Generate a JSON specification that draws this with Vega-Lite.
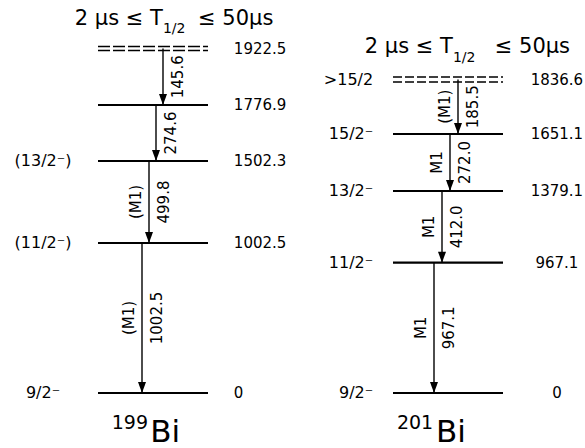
{
  "$schema": "https://vega.github.io/schema/vega-lite/v6.json",
  "width": 585,
  "height": 448,
  "autosize": {"type": "fit", "contains": "padding"},
  "padding": 0,
  "background": "white",
  "config": {
    "view": {"stroke": null},
    "font": "DejaVu Sans",
    "text": {"font": "DejaVu Sans", "fontSize": 15, "color": "#000"},
    "rule": {"color": "#000"}
  },
  "datasets": {
    "levels": [
      {"nucleus": "199Bi", "energy": 0, "spin": "9/2⁻", "isomer": false},
      {"nucleus": "199Bi", "energy": 1002.5, "spin": "(11/2⁻)", "isomer": false},
      {"nucleus": "199Bi", "energy": 1502.3, "spin": "(13/2⁻)", "isomer": false},
      {"nucleus": "199Bi", "energy": 1776.9, "spin": "", "isomer": false},
      {"nucleus": "199Bi", "energy": 1922.5, "spin": "", "isomer": true},
      {"nucleus": "201Bi", "energy": 0, "spin": "9/2⁻", "isomer": false},
      {"nucleus": "201Bi", "energy": 967.1, "spin": "11/2⁻", "isomer": false},
      {"nucleus": "201Bi", "energy": 1379.1, "spin": "13/2⁻", "isomer": false},
      {"nucleus": "201Bi", "energy": 1651.1, "spin": "15/2⁻", "isomer": false},
      {"nucleus": "201Bi", "energy": 1836.6, "spin": ">15/2", "isomer": true}
    ],
    "gammas": [
      {"nucleus": "199Bi", "from": 1922.5, "to": 1776.9, "egamma": "145.6", "mult": "", "step": 1},
      {"nucleus": "199Bi", "from": 1776.9, "to": 1502.3, "egamma": "274.6", "mult": "", "step": 2},
      {"nucleus": "199Bi", "from": 1502.3, "to": 1002.5, "egamma": "499.8", "mult": "(M1)", "step": 3},
      {"nucleus": "199Bi", "from": 1002.5, "to": 0, "egamma": "1002.5", "mult": "(M1)", "step": 4},
      {"nucleus": "201Bi", "from": 1836.6, "to": 1651.1, "egamma": "185.5", "mult": "(M1)", "step": 1},
      {"nucleus": "201Bi", "from": 1651.1, "to": 1379.1, "egamma": "272.0", "mult": "M1", "step": 2},
      {"nucleus": "201Bi", "from": 1379.1, "to": 967.1, "egamma": "412.0", "mult": "M1", "step": 3},
      {"nucleus": "201Bi", "from": 967.1, "to": 0, "egamma": "967.1", "mult": "M1", "step": 4}
    ]
  },
  "layer": [
    {
      "layer": [
        {
          "data": {"name": "levels"},
          "transform": [{"filter": "datum.nucleus === '199Bi'"}],
          "layer": [
            {
              "transform": [{"filter": "!datum.isomer"}],
              "mark": {"type": "rule", "strokeWidth": 2.2, "color": "#000"},
              "encoding": {
                "x": {"datum": -1, "type": "quantitative", "scale": {"domain": [-1, 1], "range": [98, 208], "zero": false, "nice": false}, "axis": null},
                "x2": {"datum": 1},
                "y": {"field": "energy", "type": "quantitative", "scale": {"domain": [-300, 0, 1002.5, 1502.3, 1776.9, 1922.5, 2200], "range": [442, 393, 243, 161, 105, 48.5, 25], "zero": false, "nice": false}, "axis": null}
              }
            },
            {
              "transform": [{"filter": "datum.isomer"}],
              "mark": {"type": "rule", "strokeWidth": 1.6, "strokeDash": [12, 3], "yOffset": -2, "color": "#000"},
              "encoding": {
                "x": {"datum": -1, "type": "quantitative", "scale": {"domain": [-1, 1], "range": [98, 208], "zero": false, "nice": false}, "axis": null},
                "x2": {"datum": 1},
                "y": {"field": "energy", "type": "quantitative", "scale": {"domain": [-300, 0, 1002.5, 1502.3, 1776.9, 1922.5, 2200], "range": [442, 393, 243, 161, 105, 48.5, 25], "zero": false, "nice": false}, "axis": null}
              }
            },
            {
              "transform": [{"filter": "datum.isomer"}],
              "mark": {"type": "rule", "strokeWidth": 1.6, "strokeDash": [12, 3], "yOffset": 2, "color": "#000"},
              "encoding": {
                "x": {"datum": -1, "type": "quantitative", "scale": {"domain": [-1, 1], "range": [98, 208], "zero": false, "nice": false}, "axis": null},
                "x2": {"datum": 1},
                "y": {"field": "energy", "type": "quantitative", "scale": {"domain": [-300, 0, 1002.5, 1502.3, 1776.9, 1922.5, 2200], "range": [442, 393, 243, 161, 105, 48.5, 25], "zero": false, "nice": false}, "axis": null}
              }
            },
            {
              "transform": [{"filter": "datum.spin !== ''"}],
              "mark": {"type": "text", "align": "center", "baseline": "middle", "fontSize": 16},
              "encoding": {
                "x": {"datum": -2, "type": "quantitative", "scale": {"domain": [-1, 1], "range": [98, 208], "zero": false, "nice": false}, "axis": null},
                "y": {"field": "energy", "type": "quantitative", "scale": {"domain": [-300, 0, 1002.5, 1502.3, 1776.9, 1922.5, 2200], "range": [442, 393, 243, 161, 105, 48.5, 25], "zero": false, "nice": false}, "axis": null},
                "text": {"field": "spin", "type": "nominal"}
              }
            },
            {
              "mark": {"type": "text", "align": "left", "baseline": "middle", "fontSize": 15},
              "encoding": {
                "x": {"datum": 1.47, "type": "quantitative", "scale": {"domain": [-1, 1], "range": [98, 208], "zero": false, "nice": false}, "axis": null},
                "y": {"field": "energy", "type": "quantitative", "scale": {"domain": [-300, 0, 1002.5, 1502.3, 1776.9, 1922.5, 2200], "range": [442, 393, 243, 161, 105, 48.5, 25], "zero": false, "nice": false}, "axis": null},
                "text": {"field": "energy", "type": "nominal"}
              }
            }
          ]
        },
        {
          "data": {"values": [{}]},
          "layer": [
            {
              "mark": {"type": "text", "text": "2 μs ≤ T", "align": "right", "baseline": "alphabetic", "fontSize": 21},
              "encoding": {
                "x": {"datum": 0.18, "type": "quantitative", "scale": {"domain": [-1, 1], "range": [98, 208], "zero": false, "nice": false}, "axis": null},
                "y": {"datum": 2200, "type": "quantitative", "scale": {"domain": [-300, 0, 1002.5, 1502.3, 1776.9, 1922.5, 2200], "range": [442, 393, 243, 161, 105, 48.5, 25], "zero": false, "nice": false}, "axis": null}
              }
            },
            {
              "mark": {"type": "text", "text": "1/2", "align": "left", "baseline": "alphabetic", "fontSize": 14, "dx": 0, "dy": 8},
              "encoding": {
                "x": {"datum": 0.18, "type": "quantitative", "scale": {"domain": [-1, 1], "range": [98, 208], "zero": false, "nice": false}, "axis": null},
                "y": {"datum": 2200, "type": "quantitative", "scale": {"domain": [-300, 0, 1002.5, 1502.3, 1776.9, 1922.5, 2200], "range": [442, 393, 243, 161, 105, 48.5, 25], "zero": false, "nice": false}, "axis": null}
              }
            },
            {
              "mark": {"type": "text", "text": "≤ 50μs", "align": "left", "baseline": "alphabetic", "fontSize": 21},
              "encoding": {
                "x": {"datum": 0.82, "type": "quantitative", "scale": {"domain": [-1, 1], "range": [98, 208], "zero": false, "nice": false}, "axis": null},
                "y": {"datum": 2200, "type": "quantitative", "scale": {"domain": [-300, 0, 1002.5, 1502.3, 1776.9, 1922.5, 2200], "range": [442, 393, 243, 161, 105, 48.5, 25], "zero": false, "nice": false}, "axis": null}
              }
            },
            {
              "mark": {"type": "text", "text": "199", "align": "right", "baseline": "alphabetic", "fontSize": 19, "dy": -13},
              "encoding": {
                "x": {"datum": -0.09, "type": "quantitative", "scale": {"domain": [-1, 1], "range": [98, 208], "zero": false, "nice": false}, "axis": null},
                "y": {"datum": -300, "type": "quantitative", "scale": {"domain": [-300, 0, 1002.5, 1502.3, 1776.9, 1922.5, 2200], "range": [442, 393, 243, 161, 105, 48.5, 25], "zero": false, "nice": false}, "axis": null}
              }
            },
            {
              "mark": {"type": "text", "text": "Bi", "align": "left", "baseline": "alphabetic", "fontSize": 31},
              "encoding": {
                "x": {"datum": -0.05, "type": "quantitative", "scale": {"domain": [-1, 1], "range": [98, 208], "zero": false, "nice": false}, "axis": null},
                "y": {"datum": -300, "type": "quantitative", "scale": {"domain": [-300, 0, 1002.5, 1502.3, 1776.9, 1922.5, 2200], "range": [442, 393, 243, 161, 105, 48.5, 25], "zero": false, "nice": false}, "axis": null}
              }
            }
          ]
        },
        {
          "data": {"name": "gammas"},
          "transform": [{"filter": "datum.nucleus === '199Bi'"}],
          "layer": [
            {
              "mark": {"type": "rule", "strokeWidth": 1.4, "color": "#000"},
              "encoding": {
                "x": {"field": "step", "type": "quantitative", "scale": {"domain": [1, 4], "range": [163, 142], "zero": false, "nice": false}, "axis": null},
                "y": {"field": "from", "type": "quantitative", "scale": {"domain": [-300, 0, 1002.5, 1502.3, 1776.9, 1922.5, 2200], "range": [442, 393, 243, 161, 105, 48.5, 25], "zero": false, "nice": false}, "axis": null},
                "y2": {"field": "to"}
              }
            },
            {
              "mark": {"type": "point", "shape": "M-0.8,-2.2L0.8,-2.2L0,0Z", "size": 100, "filled": true, "color": "#000", "opacity": 1, "strokeWidth": 0},
              "encoding": {
                "x": {"field": "step", "type": "quantitative", "scale": {"domain": [1, 4], "range": [163, 142], "zero": false, "nice": false}, "axis": null},
                "y": {"field": "to", "type": "quantitative", "scale": {"domain": [-300, 0, 1002.5, 1502.3, 1776.9, 1922.5, 2200], "range": [442, 393, 243, 161, 105, 48.5, 25], "zero": false, "nice": false}, "axis": null}
              }
            },
            {
              "transform": [{"fold": ["from", "to"], "as": ["end", "e"]}],
              "mark": {"type": "text", "angle": 270, "align": "center", "baseline": "middle", "fontSize": 15, "dy": 15},
              "encoding": {
                "x": {"field": "step", "type": "quantitative", "scale": {"domain": [1, 4], "range": [163, 142], "zero": false, "nice": false}, "axis": null},
                "y": {"aggregate": "mean", "field": "e", "type": "quantitative", "scale": {"domain": [-300, 0, 1002.5, 1502.3, 1776.9, 1922.5, 2200], "range": [442, 393, 243, 161, 105, 48.5, 25], "zero": false, "nice": false}, "axis": null},
                "text": {"field": "egamma", "type": "nominal"}
              }
            },
            {
              "transform": [{"filter": "datum.mult !== ''"}, {"fold": ["from", "to"], "as": ["end", "e"]}],
              "mark": {"type": "text", "angle": 270, "align": "center", "baseline": "middle", "fontSize": 15, "dy": -13},
              "encoding": {
                "x": {"field": "step", "type": "quantitative", "scale": {"domain": [1, 4], "range": [163, 142], "zero": false, "nice": false}, "axis": null},
                "y": {"aggregate": "mean", "field": "e", "type": "quantitative", "scale": {"domain": [-300, 0, 1002.5, 1502.3, 1776.9, 1922.5, 2200], "range": [442, 393, 243, 161, 105, 48.5, 25], "zero": false, "nice": false}, "axis": null},
                "text": {"field": "mult", "type": "nominal"}
              }
            }
          ]
        }
      ],
      "resolve": {"scale": {"x": "independent"}}
    },
    {
      "layer": [
        {
          "data": {"name": "levels"},
          "transform": [{"filter": "datum.nucleus === '201Bi'"}],
          "layer": [
            {
              "transform": [{"filter": "!datum.isomer"}],
              "mark": {"type": "rule", "strokeWidth": 2.2, "color": "#000"},
              "encoding": {
                "x": {"datum": -1, "type": "quantitative", "scale": {"domain": [-1, 1], "range": [393, 503], "zero": false, "nice": false}, "axis": null},
                "x2": {"datum": 1},
                "y": {"field": "energy", "type": "quantitative", "scale": {"domain": [-300, 0, 967.1, 1379.1, 1651.1, 1836.6, 2100], "range": [442, 393, 262.7, 191, 134, 79.5, 53], "zero": false, "nice": false}, "axis": null}
              }
            },
            {
              "transform": [{"filter": "datum.isomer"}],
              "mark": {"type": "rule", "strokeWidth": 1.6, "strokeDash": [9, 3], "yOffset": -2.5, "color": "#000"},
              "encoding": {
                "x": {"datum": -1, "type": "quantitative", "scale": {"domain": [-1, 1], "range": [393, 503], "zero": false, "nice": false}, "axis": null},
                "x2": {"datum": 1},
                "y": {"field": "energy", "type": "quantitative", "scale": {"domain": [-300, 0, 967.1, 1379.1, 1651.1, 1836.6, 2100], "range": [442, 393, 262.7, 191, 134, 79.5, 53], "zero": false, "nice": false}, "axis": null}
              }
            },
            {
              "transform": [{"filter": "datum.isomer"}],
              "mark": {"type": "rule", "strokeWidth": 1.6, "strokeDash": [9, 3], "yOffset": 2.5, "color": "#000"},
              "encoding": {
                "x": {"datum": -1, "type": "quantitative", "scale": {"domain": [-1, 1], "range": [393, 503], "zero": false, "nice": false}, "axis": null},
                "x2": {"datum": 1},
                "y": {"field": "energy", "type": "quantitative", "scale": {"domain": [-300, 0, 967.1, 1379.1, 1651.1, 1836.6, 2100], "range": [442, 393, 262.7, 191, 134, 79.5, 53], "zero": false, "nice": false}, "axis": null}
              }
            },
            {
              "transform": [{"filter": "datum.spin !== ''"}],
              "mark": {"type": "text", "align": "right", "baseline": "middle", "fontSize": 16},
              "encoding": {
                "x": {"datum": -1.36, "type": "quantitative", "scale": {"domain": [-1, 1], "range": [393, 503], "zero": false, "nice": false}, "axis": null},
                "y": {"field": "energy", "type": "quantitative", "scale": {"domain": [-300, 0, 967.1, 1379.1, 1651.1, 1836.6, 2100], "range": [442, 393, 262.7, 191, 134, 79.5, 53], "zero": false, "nice": false}, "axis": null},
                "text": {"field": "spin", "type": "nominal"}
              }
            },
            {
              "mark": {"type": "text", "align": "center", "baseline": "middle", "fontSize": 15},
              "encoding": {
                "x": {"datum": 1.98, "type": "quantitative", "scale": {"domain": [-1, 1], "range": [393, 503], "zero": false, "nice": false}, "axis": null},
                "y": {"field": "energy", "type": "quantitative", "scale": {"domain": [-300, 0, 967.1, 1379.1, 1651.1, 1836.6, 2100], "range": [442, 393, 262.7, 191, 134, 79.5, 53], "zero": false, "nice": false}, "axis": null},
                "text": {"field": "energy", "type": "nominal"}
              }
            }
          ]
        },
        {
          "data": {"values": [{}]},
          "layer": [
            {
              "mark": {"type": "text", "text": "2 μs ≤ T", "align": "right", "baseline": "alphabetic", "fontSize": 21},
              "encoding": {
                "x": {"datum": 0.09, "type": "quantitative", "scale": {"domain": [-1, 1], "range": [393, 503], "zero": false, "nice": false}, "axis": null},
                "y": {"datum": 2100, "type": "quantitative", "scale": {"domain": [-300, 0, 967.1, 1379.1, 1651.1, 1836.6, 2100], "range": [442, 393, 262.7, 191, 134, 79.5, 53], "zero": false, "nice": false}, "axis": null}
              }
            },
            {
              "mark": {"type": "text", "text": "1/2", "align": "left", "baseline": "alphabetic", "fontSize": 14, "dx": 0, "dy": 9},
              "encoding": {
                "x": {"datum": 0.09, "type": "quantitative", "scale": {"domain": [-1, 1], "range": [393, 503], "zero": false, "nice": false}, "axis": null},
                "y": {"datum": 2100, "type": "quantitative", "scale": {"domain": [-300, 0, 967.1, 1379.1, 1651.1, 1836.6, 2100], "range": [442, 393, 262.7, 191, 134, 79.5, 53], "zero": false, "nice": false}, "axis": null}
              }
            },
            {
              "mark": {"type": "text", "text": "≤ 50μs", "align": "left", "baseline": "alphabetic", "fontSize": 21},
              "encoding": {
                "x": {"datum": 0.85, "type": "quantitative", "scale": {"domain": [-1, 1], "range": [393, 503], "zero": false, "nice": false}, "axis": null},
                "y": {"datum": 2100, "type": "quantitative", "scale": {"domain": [-300, 0, 967.1, 1379.1, 1651.1, 1836.6, 2100], "range": [442, 393, 262.7, 191, 134, 79.5, 53], "zero": false, "nice": false}, "axis": null}
              }
            },
            {
              "mark": {"type": "text", "text": "201", "align": "right", "baseline": "alphabetic", "fontSize": 19, "dy": -13},
              "encoding": {
                "x": {"datum": -0.27, "type": "quantitative", "scale": {"domain": [-1, 1], "range": [393, 503], "zero": false, "nice": false}, "axis": null},
                "y": {"datum": -300, "type": "quantitative", "scale": {"domain": [-300, 0, 967.1, 1379.1, 1651.1, 1836.6, 2100], "range": [442, 393, 262.7, 191, 134, 79.5, 53], "zero": false, "nice": false}, "axis": null}
              }
            },
            {
              "mark": {"type": "text", "text": "Bi", "align": "left", "baseline": "alphabetic", "fontSize": 31},
              "encoding": {
                "x": {"datum": -0.22, "type": "quantitative", "scale": {"domain": [-1, 1], "range": [393, 503], "zero": false, "nice": false}, "axis": null},
                "y": {"datum": -300, "type": "quantitative", "scale": {"domain": [-300, 0, 967.1, 1379.1, 1651.1, 1836.6, 2100], "range": [442, 393, 262.7, 191, 134, 79.5, 53], "zero": false, "nice": false}, "axis": null}
              }
            }
          ]
        },
        {
          "data": {"name": "gammas"},
          "transform": [{"filter": "datum.nucleus === '201Bi'"}],
          "layer": [
            {
              "mark": {"type": "rule", "strokeWidth": 1.4, "color": "#000"},
              "encoding": {
                "x": {"field": "step", "type": "quantitative", "scale": {"domain": [1, 4], "range": [458, 434], "zero": false, "nice": false}, "axis": null},
                "y": {"field": "from", "type": "quantitative", "scale": {"domain": [-300, 0, 967.1, 1379.1, 1651.1, 1836.6, 2100], "range": [442, 393, 262.7, 191, 134, 79.5, 53], "zero": false, "nice": false}, "axis": null},
                "y2": {"field": "to"}
              }
            },
            {
              "mark": {"type": "point", "shape": "M-0.8,-2.2L0.8,-2.2L0,0Z", "size": 100, "filled": true, "color": "#000", "opacity": 1, "strokeWidth": 0},
              "encoding": {
                "x": {"field": "step", "type": "quantitative", "scale": {"domain": [1, 4], "range": [458, 434], "zero": false, "nice": false}, "axis": null},
                "y": {"field": "to", "type": "quantitative", "scale": {"domain": [-300, 0, 967.1, 1379.1, 1651.1, 1836.6, 2100], "range": [442, 393, 262.7, 191, 134, 79.5, 53], "zero": false, "nice": false}, "axis": null}
              }
            },
            {
              "transform": [{"fold": ["from", "to"], "as": ["end", "e"]}],
              "mark": {"type": "text", "angle": 270, "align": "center", "baseline": "middle", "fontSize": 15, "dy": 15},
              "encoding": {
                "x": {"field": "step", "type": "quantitative", "scale": {"domain": [1, 4], "range": [458, 434], "zero": false, "nice": false}, "axis": null},
                "y": {"aggregate": "mean", "field": "e", "type": "quantitative", "scale": {"domain": [-300, 0, 967.1, 1379.1, 1651.1, 1836.6, 2100], "range": [442, 393, 262.7, 191, 134, 79.5, 53], "zero": false, "nice": false}, "axis": null},
                "text": {"field": "egamma", "type": "nominal"}
              }
            },
            {
              "transform": [{"filter": "datum.mult !== ''"}, {"fold": ["from", "to"], "as": ["end", "e"]}],
              "mark": {"type": "text", "angle": 270, "align": "center", "baseline": "middle", "fontSize": 15, "dy": -13},
              "encoding": {
                "x": {"field": "step", "type": "quantitative", "scale": {"domain": [1, 4], "range": [458, 434], "zero": false, "nice": false}, "axis": null},
                "y": {"aggregate": "mean", "field": "e", "type": "quantitative", "scale": {"domain": [-300, 0, 967.1, 1379.1, 1651.1, 1836.6, 2100], "range": [442, 393, 262.7, 191, 134, 79.5, 53], "zero": false, "nice": false}, "axis": null},
                "text": {"field": "mult", "type": "nominal"}
              }
            }
          ]
        }
      ],
      "resolve": {"scale": {"x": "independent"}}
    }
  ],
  "resolve": {"scale": {"x": "independent", "y": "independent"}}
}
